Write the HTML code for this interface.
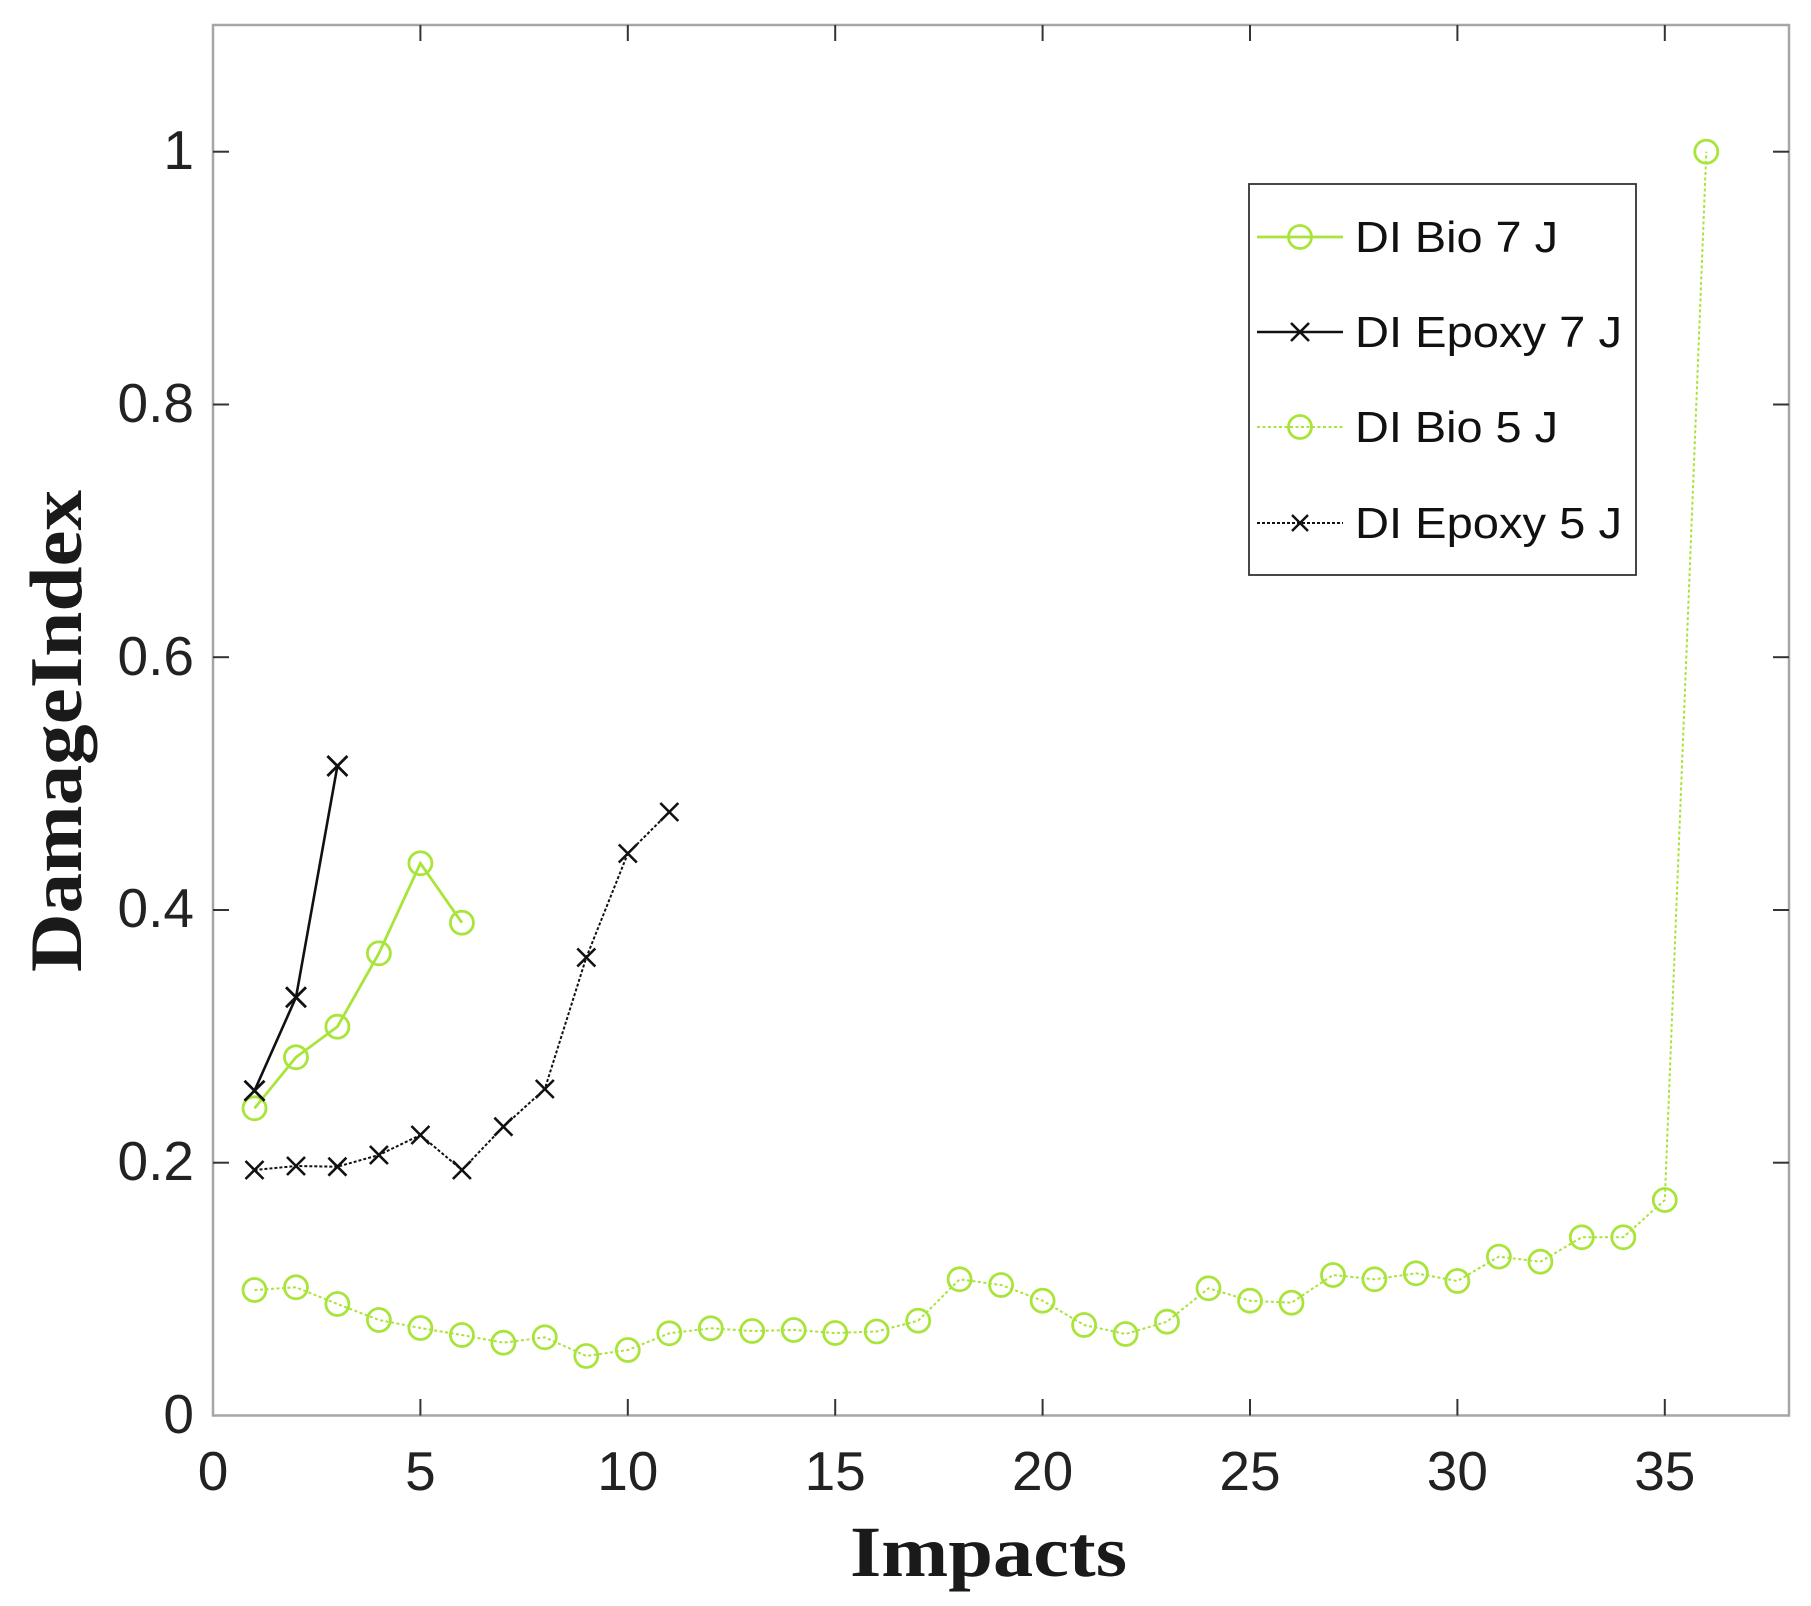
<!DOCTYPE html>
<html>
<head>
<meta charset="utf-8">
<style>
  html, body { margin: 0; padding: 0; background: #ffffff; }
  body { width: 1811px; height: 1606px; overflow: hidden; }
  svg { display: block; }
</style>
</head>
<body>
<svg width="1811" height="1606" viewBox="0 0 1811 1606" xmlns="http://www.w3.org/2000/svg">
  <rect x="0" y="0" width="1811" height="1606" fill="#ffffff"/>

  <!-- axes box -->
  <rect x="213" y="25" width="1576" height="1390.5" fill="none" stroke="#a6a6a6" stroke-width="2.5"/>

  <!-- x ticks (bottom & top) -->
  <g stroke="#333" stroke-width="2">
    <line x1="420.4" y1="1415.5" x2="420.4" y2="1399"/>
    <line x1="627.8" y1="1415.5" x2="627.8" y2="1399"/>
    <line x1="835.2" y1="1415.5" x2="835.2" y2="1399"/>
    <line x1="1042.6" y1="1415.5" x2="1042.6" y2="1399"/>
    <line x1="1250" y1="1415.5" x2="1250" y2="1399"/>
    <line x1="1457.4" y1="1415.5" x2="1457.4" y2="1399"/>
    <line x1="1664.8" y1="1415.5" x2="1664.8" y2="1399"/>
    <line x1="420.4" y1="25" x2="420.4" y2="41"/>
    <line x1="627.8" y1="25" x2="627.8" y2="41"/>
    <line x1="835.2" y1="25" x2="835.2" y2="41"/>
    <line x1="1042.6" y1="25" x2="1042.6" y2="41"/>
    <line x1="1250" y1="25" x2="1250" y2="41"/>
    <line x1="1457.4" y1="25" x2="1457.4" y2="41"/>
    <line x1="1664.8" y1="25" x2="1664.8" y2="41"/>
    <!-- y ticks left & right -->
    <line x1="213" y1="1162.7" x2="229" y2="1162.7"/>
    <line x1="213" y1="910" x2="229" y2="910"/>
    <line x1="213" y1="657.2" x2="229" y2="657.2"/>
    <line x1="213" y1="404.5" x2="229" y2="404.5"/>
    <line x1="213" y1="151.7" x2="229" y2="151.7"/>
    <line x1="1789" y1="1162.7" x2="1773" y2="1162.7"/>
    <line x1="1789" y1="910" x2="1773" y2="910"/>
    <line x1="1789" y1="657.2" x2="1773" y2="657.2"/>
    <line x1="1789" y1="404.5" x2="1773" y2="404.5"/>
    <line x1="1789" y1="151.7" x2="1773" y2="151.7"/>
  </g>

  <!-- x tick labels -->
  <g font-family="'Liberation Sans', sans-serif" font-size="55" fill="#222" text-anchor="middle">
    <text x="213" y="1490">0</text>
    <text x="420.4" y="1490">5</text>
    <text x="627.8" y="1490">10</text>
    <text x="835.2" y="1490">15</text>
    <text x="1042.6" y="1490">20</text>
    <text x="1250" y="1490">25</text>
    <text x="1457.4" y="1490">30</text>
    <text x="1664.8" y="1490">35</text>
  </g>
  <!-- y tick labels -->
  <g font-family="'Liberation Sans', sans-serif" font-size="55" fill="#222" text-anchor="end">
    <text x="194" y="1433">0</text>
    <text x="194" y="1180">0.2</text>
    <text x="194" y="927">0.4</text>
    <text x="194" y="675">0.6</text>
    <text x="194" y="422">0.8</text>
    <text x="194" y="169">1</text>
  </g>

  <!-- axis labels -->
  <text x="988.5" y="1576" font-family="'Liberation Serif', serif" font-weight="bold" font-size="72" fill="#1a1a1a" text-anchor="middle" textLength="277" lengthAdjust="spacingAndGlyphs">Impacts</text>
  <text transform="translate(81,731) rotate(-90)" x="0" y="0" font-family="'Liberation Serif', serif" font-weight="bold" font-size="74" fill="#1a1a1a" text-anchor="middle" textLength="482" lengthAdjust="spacingAndGlyphs">DamageIndex</text>

  <!-- DI Bio 5 J (dotted green) -->
  <polyline fill="none" stroke="#a8e43a" stroke-width="2" stroke-dasharray="3,2.5"
    points="254.5,1290 296,1287.3 337.4,1304 378.9,1320 420.4,1328 461.9,1335 503.4,1342.7 544.8,1337.3 586.3,1356 627.8,1350 669.3,1333.3 710.8,1328.3 752.2,1331 793.7,1330 835.2,1333 876.7,1331.5 918.2,1320.7 959.6,1279.3 1001.1,1285 1042.6,1300.7 1084.1,1325 1125.6,1334 1167,1321.7 1208.5,1288.3 1250,1300.7 1291.5,1302.7 1333,1275 1374.4,1279.3 1415.9,1273.3 1457.4,1281 1498.9,1256.6 1540.4,1261.7 1581.8,1237.3 1623.3,1237.3 1664.8,1200 1706.3,151.7"/>
  <g fill="none" stroke="#a8e43a" stroke-width="2.8">
    <circle cx="254.5" cy="1290" r="11.5"/>
    <circle cx="296" cy="1287.3" r="11.5"/>
    <circle cx="337.4" cy="1304" r="11.5"/>
    <circle cx="378.9" cy="1320" r="11.5"/>
    <circle cx="420.4" cy="1328" r="11.5"/>
    <circle cx="461.9" cy="1335" r="11.5"/>
    <circle cx="503.4" cy="1342.7" r="11.5"/>
    <circle cx="544.8" cy="1337.3" r="11.5"/>
    <circle cx="586.3" cy="1356" r="11.5"/>
    <circle cx="627.8" cy="1350" r="11.5"/>
    <circle cx="669.3" cy="1333.3" r="11.5"/>
    <circle cx="710.8" cy="1328.3" r="11.5"/>
    <circle cx="752.2" cy="1331" r="11.5"/>
    <circle cx="793.7" cy="1330" r="11.5"/>
    <circle cx="835.2" cy="1333" r="11.5"/>
    <circle cx="876.7" cy="1331.5" r="11.5"/>
    <circle cx="918.2" cy="1320.7" r="11.5"/>
    <circle cx="959.6" cy="1279.3" r="11.5"/>
    <circle cx="1001.1" cy="1285" r="11.5"/>
    <circle cx="1042.6" cy="1300.7" r="11.5"/>
    <circle cx="1084.1" cy="1325" r="11.5"/>
    <circle cx="1125.6" cy="1334" r="11.5"/>
    <circle cx="1167" cy="1321.7" r="11.5"/>
    <circle cx="1208.5" cy="1288.3" r="11.5"/>
    <circle cx="1250" cy="1300.7" r="11.5"/>
    <circle cx="1291.5" cy="1302.7" r="11.5"/>
    <circle cx="1333" cy="1275" r="11.5"/>
    <circle cx="1374.4" cy="1279.3" r="11.5"/>
    <circle cx="1415.9" cy="1273.3" r="11.5"/>
    <circle cx="1457.4" cy="1281" r="11.5"/>
    <circle cx="1498.9" cy="1256.6" r="11.5"/>
    <circle cx="1540.4" cy="1261.7" r="11.5"/>
    <circle cx="1581.8" cy="1237.3" r="11.5"/>
    <circle cx="1623.3" cy="1237.3" r="11.5"/>
    <circle cx="1664.8" cy="1200" r="11.5"/>
    <circle cx="1706.3" cy="151.7" r="11.5"/>
  </g>

  <!-- DI Epoxy 5 J (dotted black) -->
  <polyline fill="none" stroke="#111" stroke-width="2" stroke-dasharray="3,2"
    points="254.5,1170 296,1166 337.4,1166.7 378.9,1155 420.4,1135 461.9,1170 503.4,1126.7 544.8,1089 586.3,957.5 627.8,853.5 669.3,812"/>
  <g stroke="#111" stroke-width="2.6" fill="none">
    <path d="M245.5,1161 l18,18 M263.5,1161 l-18,18"/>
    <path d="M287,1157 l18,18 M305,1157 l-18,18"/>
    <path d="M328.4,1157.7 l18,18 M346.4,1157.7 l-18,18"/>
    <path d="M369.9,1146 l18,18 M387.9,1146 l-18,18"/>
    <path d="M411.4,1126 l18,18 M429.4,1126 l-18,18"/>
    <path d="M452.9,1161 l18,18 M470.9,1161 l-18,18"/>
    <path d="M494.4,1117.7 l18,18 M512.4,1117.7 l-18,18"/>
    <path d="M535.8,1080 l18,18 M553.8,1080 l-18,18"/>
    <path d="M577.3,948.5 l18,18 M595.3,948.5 l-18,18"/>
    <path d="M618.8,844.5 l18,18 M636.8,844.5 l-18,18"/>
    <path d="M660.3,803 l18,18 M678.3,803 l-18,18"/>
  </g>

  <!-- DI Bio 7 J (solid green) -->
  <polyline fill="none" stroke="#a8e43a" stroke-width="2.8"
    points="254.5,1108.3 296,1057.3 337.4,1026.7 378.9,953.3 420.4,863.3 461.9,922.7"/>
  <g fill="none" stroke="#a8e43a" stroke-width="2.8">
    <circle cx="254.5" cy="1108.3" r="11.5"/>
    <circle cx="296" cy="1057.3" r="11.5"/>
    <circle cx="337.4" cy="1026.7" r="11.5"/>
    <circle cx="378.9" cy="953.3" r="11.5"/>
    <circle cx="420.4" cy="863.3" r="11.5"/>
    <circle cx="461.9" cy="922.7" r="11.5"/>
  </g>

  <!-- DI Epoxy 7 J (solid black) -->
  <polyline fill="none" stroke="#111" stroke-width="2.6"
    points="254.5,1090.7 296,997.3 337.4,766"/>
  <g stroke="#111" stroke-width="2.8" fill="none">
    <path d="M244.5,1080.7 l20,20 M264.5,1080.7 l-20,20"/>
    <path d="M286,987.3 l20,20 M306,987.3 l-20,20"/>
    <path d="M327.4,756 l20,20 M347.4,756 l-20,20"/>
  </g>

  <!-- legend -->
  <rect x="1249" y="184" width="387" height="391" fill="#ffffff" stroke="#333" stroke-width="1.8"/>
  <line x1="1257" y1="237" x2="1343" y2="237" stroke="#a8e43a" stroke-width="2.8"/>
  <circle cx="1300" cy="237" r="11.5" fill="none" stroke="#a8e43a" stroke-width="2.8"/>
  <line x1="1257" y1="332" x2="1343" y2="332" stroke="#111" stroke-width="2.4"/>
  <path d="M1291,323 l18,18 M1309,323 l-18,18" stroke="#111" stroke-width="2.6" fill="none"/>
  <line x1="1257" y1="427" x2="1343" y2="427" stroke="#a8e43a" stroke-width="2" stroke-dasharray="3,2.5"/>
  <circle cx="1300" cy="427" r="11.5" fill="none" stroke="#a8e43a" stroke-width="2.8"/>
  <line x1="1257" y1="523" x2="1343" y2="523" stroke="#111" stroke-width="2" stroke-dasharray="3,2"/>
  <path d="M1292,515 l16,16 M1308,515 l-16,16" stroke="#111" stroke-width="2.4" fill="none"/>
  <g font-family="'Liberation Sans', sans-serif" font-size="44" fill="#111">
    <text x="1355" y="252" textLength="203" lengthAdjust="spacingAndGlyphs">DI Bio 7 J</text>
    <text x="1355" y="347" textLength="267" lengthAdjust="spacingAndGlyphs">DI Epoxy 7 J</text>
    <text x="1355" y="442" textLength="203" lengthAdjust="spacingAndGlyphs">DI Bio 5 J</text>
    <text x="1355" y="538" textLength="267" lengthAdjust="spacingAndGlyphs">DI Epoxy 5 J</text>
  </g>
</svg>
</body>
</html>
